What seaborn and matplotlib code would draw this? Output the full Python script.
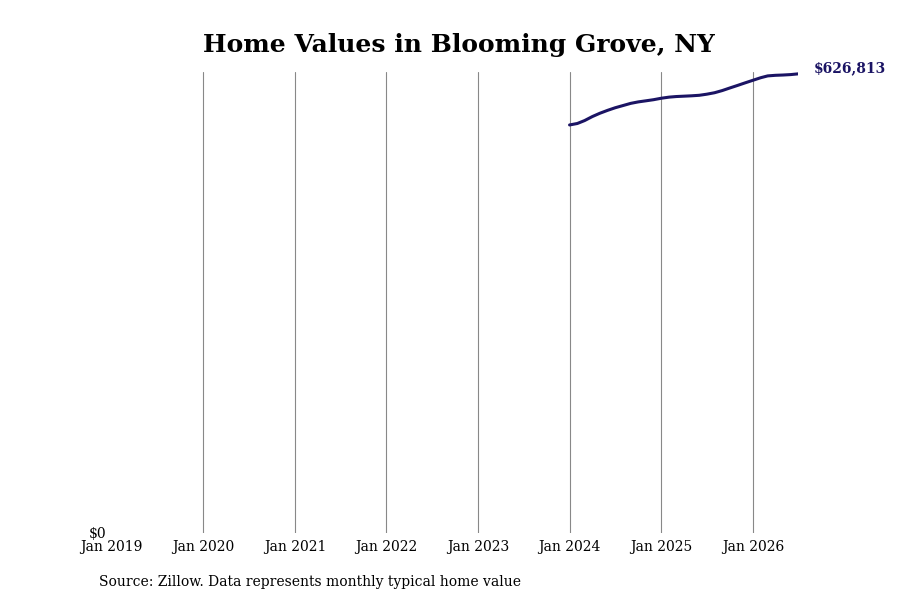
import matplotlib
matplotlib.use("Agg")
import matplotlib.pyplot as plt
import matplotlib.dates as mdates
import seaborn as sns
import pandas as pd
import numpy as np

dates = pd.date_range("2024-01-01", "2026-07-01", freq="MS")
values = [557000, 559000, 563000, 568500, 573000, 577000, 580500, 583500,
          586500, 588500, 590000, 591500, 593500, 595000, 595800, 596300,
          596800, 597500, 599000, 601000, 604000, 607500, 611000, 614500,
          618000, 621500, 624000, 624800, 625200, 625800, 626813]
tick_dates = pd.date_range("2019-01-01", "2026-01-01", freq="YS")
tick_labels = [d.strftime("Jan %Y") for d in tick_dates]
title = "Home Values in Blooming Grove, NY"
source = "Source: Zillow. Data represents monthly typical home value"
line_color = "#1b1464"

df = pd.DataFrame({"date": dates, "value": values})

sns.set_theme(style="white")
plt.rcParams["font.family"] = ["DejaVu Serif"]
plt.rcParams["text.color"] = "black"

fig = plt.figure(figsize=(9, 6), dpi=100)
ax = fig.add_axes([0.124, 0.112, 0.763, 0.768])
sns.lineplot(data=df, x="date", y="value", ax=ax, color=line_color, linewidth=2.2)

ax.set_xlim(pd.Timestamp("2019-01-01"), dates[-1])
ax.set_ylim(0, max(values) * 1.004)
ax.set_xticks(tick_dates)
ax.set_xticklabels(tick_labels, fontsize=10, color="black")
ax.set_yticks([0])
ax.set_yticklabels(["$0"], fontsize=10, color="black")
ax.tick_params(axis="x", length=0, pad=5)
ax.tick_params(axis="y", length=0, pad=4)
ax.grid(axis="x", color="#888888", linewidth=0.8)
ax.grid(axis="y", visible=False)
ax.xaxis.get_gridlines()[0].set_visible(False)
for s in ax.spines.values():
    s.set_visible(False)
ax.set_xlabel("")
ax.set_ylabel("")

ax.annotate(f"${values[-1]:,}", xy=(dates[-1], values[-1]), xytext=(11, 4),
            textcoords="offset points", fontsize=10, fontweight="bold",
            color=line_color, va="center", ha="left")

fig.suptitle(title, x=0.51, y=0.945, fontsize=18, fontweight="bold", color="black")
fig.text(0.11, 0.018, source, fontsize=10, ha="left", va="bottom", color="black")

fig.savefig("out.png", dpi=100)
